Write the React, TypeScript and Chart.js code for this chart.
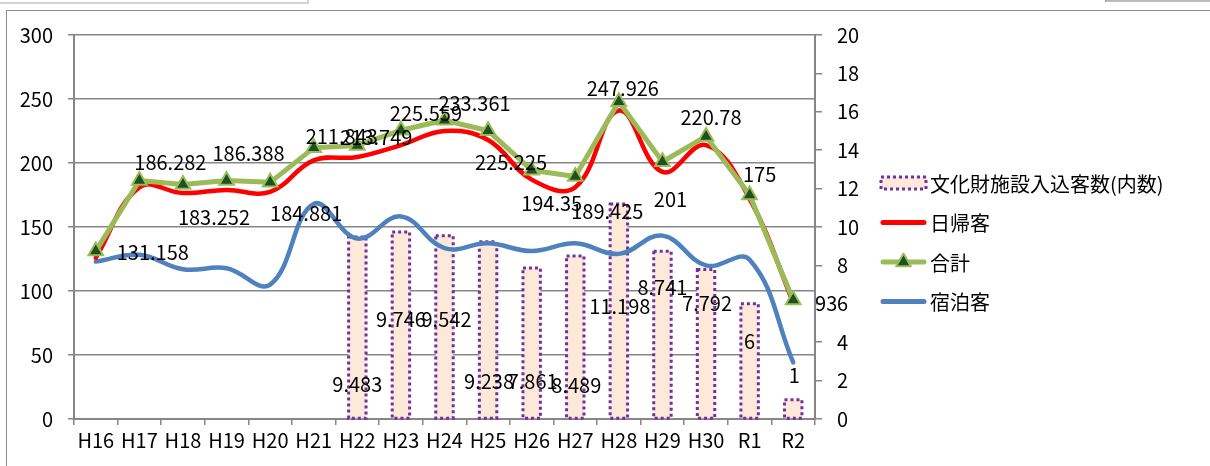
import React, { useEffect, useRef } from 'react';
import { Chart, registerables } from 'chart.js';

Chart.register(...registerables);

const FONT = "'Noto Sans CJK JP', 'Noto Sans', sans-serif";

const categories = ['H16', 'H17', 'H18', 'H19', 'H20', 'H21', 'H22', 'H23', 'H24', 'H25', 'H26', 'H27', 'H28', 'H29', 'H30', 'R1', 'R2'];

// 文化財施設入込客数(内数) – right axis
const culturalVisitors: (number | null)[] = [null, null, null, null, null, null, 9.483, 9.746, 9.542, 9.238, 7.861, 8.489, 11.198, 8.741, 7.792, 6, 1];
// 日帰客 – left axis
const dayTrip = [126, 181, 176.5, 179, 177.5, 202, 204.7, 214, 225, 218, 187, 181, 241, 193, 214, 172, 91];
// 合計 – left axis
const total = [131.158, 186.282, 183.252, 186.388, 184.881, 211.843, 213.749, 225.559, 233.361, 225.225, 194.35, 189.425, 247.926, 201, 220.78, 175, 93];
// 宿泊客 – right axis
const overnight = [8.2, 8.55, 7.8, 7.85, 7.0, 11.2, 9.4, 10.55, 8.9, 9.15, 8.75, 9.15, 8.6, 9.55, 8.0, 8.3, 2.95];

const seriesNames = ['文化財施設入込客数(内数)', '日帰客', '合計', '宿泊客'];

const leftAxis = { min: 0, max: 300, step: 50 };
const rightAxis = { min: 0, max: 20, step: 2 };

// label placement (pixel offsets from the mark), as hand-placed in the original
const totalLabelOffsets: [number, number][] = [
  [57, 1], [31, -18], [31, 33], [22, -27], [36, 31], [28, -11], [19, -8], [25, -17], [30, -17],
  [23, 32], [20, 33], [32, 35], [4, -13], [8, 38], [5, -19], [10, -21], [33, 3],
];
const barLabelOffsets: [number, number][] = [
  [0, 0], [0, 0], [0, 0], [0, 0], [0, 0], [0, 0], [0, 147], [0, 88], [2, 84], [1, 140],
  [1, 113], [1, 129], [1, 102], [0, 36], [1, 34], [0, 38], [1, -24],
];

const COLORS = {
  barFill: '#FDE9D9',
  barBorder: '#7030A0',
  red: '#FF0000',
  green: '#9BBB59',
  greenMarker: '#1D5024',
  blue: '#4F81BD',
  grid: '#868686',
};

const dottedBarsPlugin = {
  id: 'dottedBars',
  afterDatasetDraw(chart: any, args: any) {
    if (args.index !== 0) return;
    const ctx = chart.ctx;
    ctx.save();
    ctx.strokeStyle = COLORS.barBorder;
    ctx.lineWidth = 3;
    ctx.setLineDash([3, 3]);
    args.meta.data.forEach((el: any, i: number) => {
      if (culturalVisitors[i] == null) return;
      const { x, y, base, width } = el.getProps(['x', 'y', 'base', 'width'], true);
      ctx.strokeRect(x - width / 2, y, width, base - y);
    });
    ctx.restore();
  },
};

const labelsPlugin = {
  id: 'valueLabels',
  afterDatasetsDraw(chart: any) {
    const ctx = chart.ctx;
    ctx.save();
    ctx.font = `20px ${FONT}`;
    ctx.fillStyle = '#000';
    ctx.textAlign = 'center';
    ctx.textBaseline = 'middle';
    const totalMeta = chart.getDatasetMeta(2);
    totalMeta.data.forEach((el: any, i: number) => {
      const [dx, dy] = totalLabelOffsets[i];
      ctx.fillText(String(total[i]), el.x + dx, el.y + dy);
    });
    const barMeta = chart.getDatasetMeta(0);
    barMeta.data.forEach((el: any, i: number) => {
      const v = culturalVisitors[i];
      if (v == null) return;
      const [dx, dy] = barLabelOffsets[i];
      ctx.fillText(String(v), el.x + dx, el.y + dy);
    });
    ctx.restore();
  },
};

const legendPlugin = {
  id: 'customLegend',
  afterDraw(chart: any) {
    const ctx = chart.ctx;
    const area = chart.chartArea;
    const x0 = area.right + 66;
    const sw = 45;
    const rows = [148, 187.5, 227, 266.5].map((d) => area.top + d);
    ctx.save();
    // bar sample
    ctx.fillStyle = COLORS.barFill;
    ctx.fillRect(x0, rows[0] - 6, sw, 12);
    ctx.strokeStyle = COLORS.barBorder;
    ctx.lineWidth = 3;
    ctx.setLineDash([3, 3]);
    ctx.strokeRect(x0, rows[0] - 6, sw, 12);
    ctx.setLineDash([]);
    ctx.lineCap = 'round';
    // red
    ctx.strokeStyle = COLORS.red;
    ctx.lineWidth = 5;
    ctx.beginPath();
    ctx.moveTo(x0 + 2, rows[1]);
    ctx.lineTo(x0 + sw - 2, rows[1]);
    ctx.stroke();
    // green
    ctx.strokeStyle = COLORS.green;
    ctx.beginPath();
    ctx.moveTo(x0 + 2, rows[2]);
    ctx.lineTo(x0 + sw - 2, rows[2]);
    ctx.stroke();
    const r = 8.5;
    const cx = x0 + sw / 2;
    const cy = rows[2];
    ctx.beginPath();
    ctx.moveTo(cx, cy - r);
    ctx.lineTo(cx + r * Math.sin((2 * Math.PI) / 3), cy - r * Math.cos((2 * Math.PI) / 3));
    ctx.lineTo(cx + r * Math.sin((4 * Math.PI) / 3), cy - r * Math.cos((4 * Math.PI) / 3));
    ctx.closePath();
    ctx.fillStyle = COLORS.greenMarker;
    ctx.fill();
    ctx.lineWidth = 2;
    ctx.lineJoin = 'round';
    ctx.strokeStyle = COLORS.green;
    ctx.stroke();
    // blue
    ctx.strokeStyle = COLORS.blue;
    ctx.lineWidth = 5;
    ctx.beginPath();
    ctx.moveTo(x0 + 2, rows[3]);
    ctx.lineTo(x0 + sw - 2, rows[3]);
    ctx.stroke();
    // texts
    ctx.font = `20px ${FONT}`;
    ctx.fillStyle = '#000';
    ctx.textAlign = 'left';
    ctx.textBaseline = 'middle';
    seriesNames.forEach((n, i) => ctx.fillText(n, x0 + sw + 4, rows[i] + 1));
    ctx.restore();
  },
};

export default function App() {
  const ref = useRef<HTMLCanvasElement>(null);

  useEffect(() => {
    const tickFont = { family: FONT, size: 20 };
    const chart = new Chart(ref.current as HTMLCanvasElement, {
      type: 'bar',
      data: {
        labels: categories,
        datasets: [
          {
            type: 'bar',
            label: seriesNames[0],
            data: culturalVisitors as any,
            yAxisID: 'y1',
            backgroundColor: COLORS.barFill,
            borderWidth: 0,
            barPercentage: 0.4,
            categoryPercentage: 1,
            order: 3,
          },
          {
            type: 'line',
            label: seriesNames[1],
            data: dayTrip,
            yAxisID: 'y',
            borderColor: COLORS.red,
            borderWidth: 4.5,
            tension: 0.4,
            pointRadius: 0,
            borderCapStyle: 'round',
            borderJoinStyle: 'round',
            order: 1,
          },
          {
            type: 'line',
            label: seriesNames[2],
            data: total,
            yAxisID: 'y',
            borderColor: COLORS.green,
            borderWidth: 5,
            tension: 0,
            pointStyle: 'triangle',
            pointRadius: 8.5,
            pointBackgroundColor: COLORS.greenMarker,
            pointBorderColor: COLORS.green,
            pointBorderWidth: 2,
            borderCapStyle: 'round',
            borderJoinStyle: 'round',
            order: 0,
          },
          {
            type: 'line',
            label: seriesNames[3],
            data: overnight,
            yAxisID: 'y1',
            borderColor: COLORS.blue,
            borderWidth: 4.5,
            tension: 0.4,
            pointRadius: 0,
            borderCapStyle: 'round',
            borderJoinStyle: 'round',
            order: 2,
          },
        ],
      },
      options: {
        responsive: false,
        animation: false,
        devicePixelRatio: 1,
        layout: { padding: { top: 35, left: 0, right: 0, bottom: 0 } },
        plugins: {
          legend: { display: false },
          tooltip: { enabled: false },
        },
        scales: {
          x: {
            offset: true,
            grid: {
              offset: true,
              drawOnChartArea: false,
              drawTicks: true,
              tickLength: 6,
              color: COLORS.grid,
              lineWidth: 1.5,
            },
            border: { color: COLORS.grid, width: 2 },
            ticks: { font: tickFont, color: '#000', padding: 3, maxRotation: 0, autoSkip: false },
            afterFit: (s: any) => {
              s.height = 47;
            },
          },
          y: {
            position: 'left',
            min: leftAxis.min,
            max: leftAxis.max,
            grid: { color: COLORS.grid, lineWidth: 1.5, tickLength: 6 },
            border: { color: COLORS.grid, width: 2 },
            ticks: { stepSize: leftAxis.step, font: tickFont, color: '#000', padding: 15 },
            afterFit: (s: any) => {
              s.width = 74;
            },
          },
          y1: {
            position: 'right',
            min: rightAxis.min,
            max: rightAxis.max,
            grid: { drawOnChartArea: false, color: COLORS.grid, lineWidth: 1.5, tickLength: 7 },
            border: { color: COLORS.grid, width: 2 },
            ticks: { stepSize: rightAxis.step, font: tickFont, color: '#000', padding: 15 },
            afterFit: (s: any) => {
              s.width = 1210 - 815;
            },
          },
        },
      },
      plugins: [dottedBarsPlugin, labelsPlugin, legendPlugin],
    } as any);
    return () => chart.destroy();
  }, []);

  return (
    <div style={{ position: 'fixed', left: 0, top: 0, width: 1210, height: 466, overflow: 'hidden', background: '#fff' }}>
      <div style={{ position: 'absolute', left: -10, top: -20, width: 315, height: 20, border: '2px solid #d4d4d4' }} />
      <div
        style={{
          position: 'absolute',
          left: 1105,
          top: -20,
          width: 200,
          height: 22,
          borderLeft: '2px solid #999',
          borderBottom: '2px solid #bbb',
          fontFamily: FONT,
          fontSize: 18,
          lineHeight: '18px',
          paddingLeft: 10,
          paddingTop: 10,
          boxSizing: 'border-box',
          overflow: 'hidden',
        }}
      >
        単位：千人
      </div>
      <div style={{ position: 'absolute', left: 6, top: 10, width: 1400, height: 800, border: '1.5px solid #8c8c8c' }} />
      <canvas ref={ref} width={1210} height={466} style={{ position: 'absolute', left: 0, top: 0, display: 'block' }} />
    </div>
  );
}
